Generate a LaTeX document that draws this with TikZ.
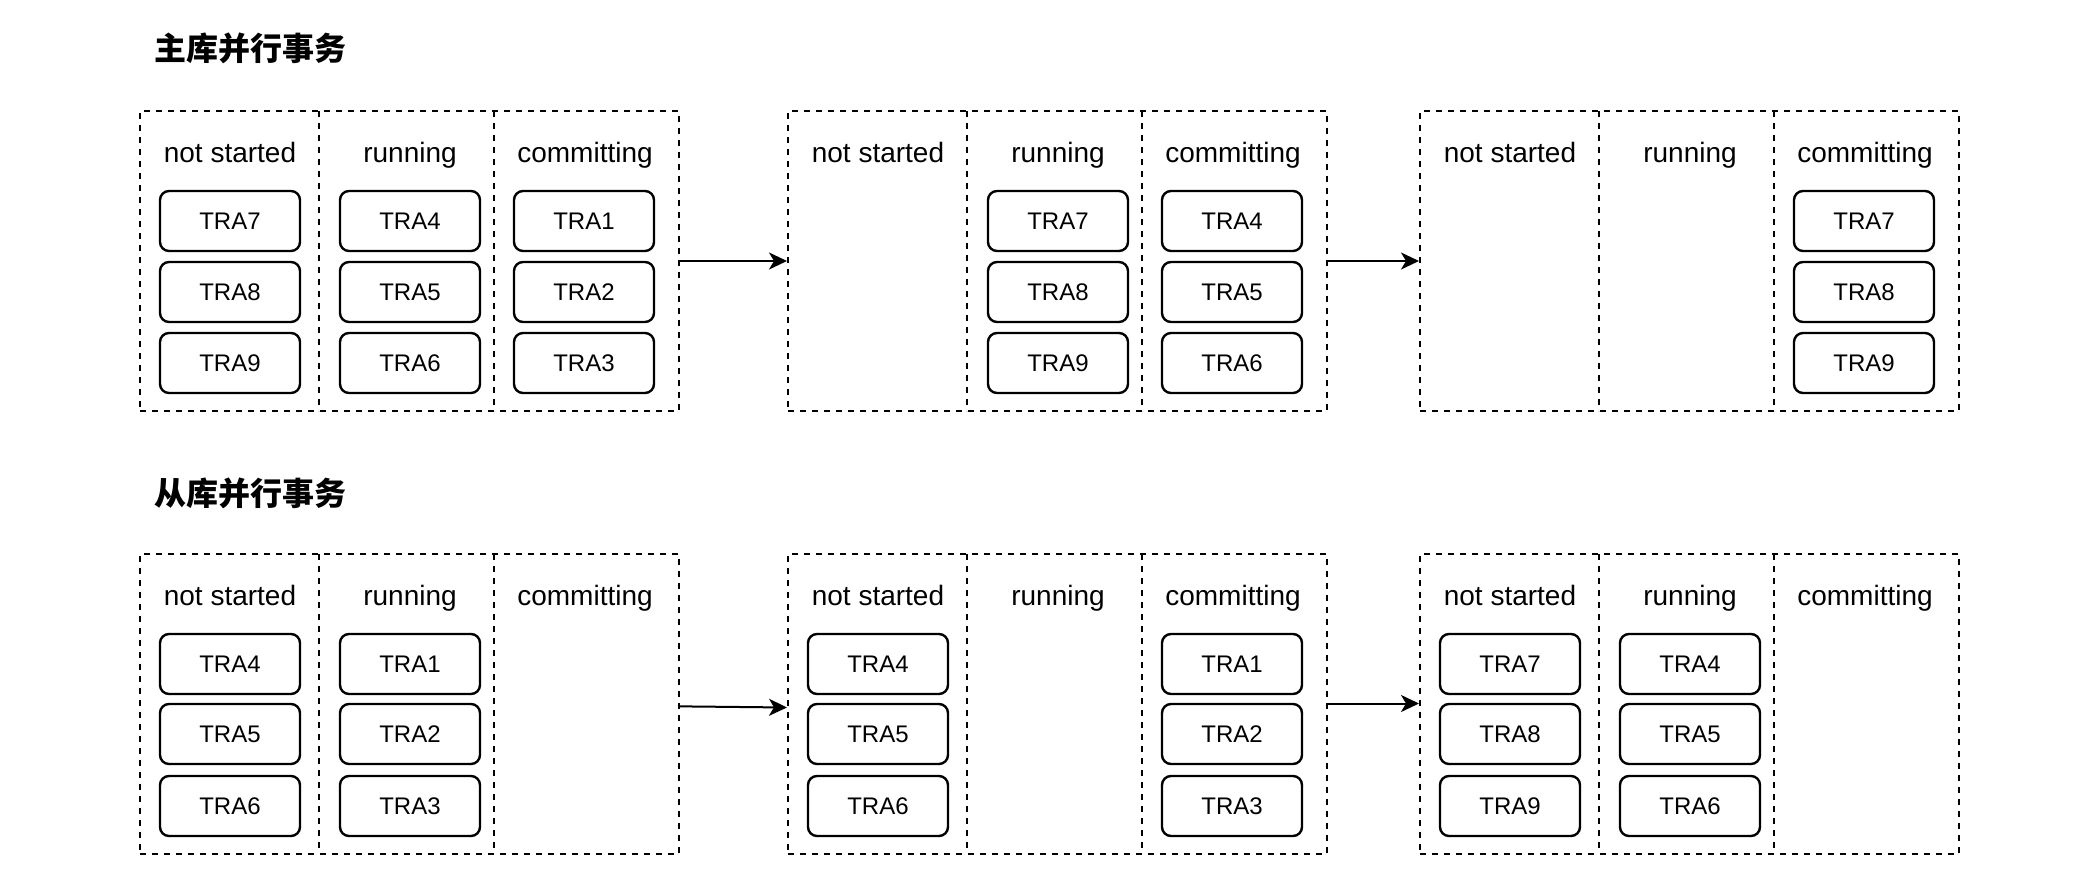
\documentclass[tikz,border=0pt]{standalone}
\usepackage{fontspec}
\setmainfont{Liberation Sans}
\newfontfamily\cjk{Noto Sans CJK SC}
\usetikzlibrary{arrows.meta}

\begin{document}
\begin{tikzpicture}[x=0.5pt, y=-0.5pt,
    stage/.style={draw, dashed, dash pattern=on 3pt off 3pt, line width=1pt,
      minimum width=269.5pt, minimum height=150pt, inner sep=0pt},
    divider/.style={dashed, dash pattern=on 3pt off 3pt, line width=1pt},
    tra/.style={draw, rounded corners=4.5pt, line width=1.2pt, minimum width=70pt,
      minimum height=30pt, inner sep=0pt, font=\fontsize{12}{14}\selectfont},
    head/.style={anchor=base, inner sep=0pt, font=\fontsize{14}{16}\selectfont},
    title/.style={anchor=base west, inner sep=0pt, font=\cjk\bfseries\fontsize{16}{18}\selectfont},
    flow/.style={-{Stealth[length=9pt, width=8.5pt, inset=2.5pt]}, line width=1pt}]
  \useasboundingbox (0,0) rectangle (2074,878);

  %% master
  \node[title] (t1) at (154,61) {主库并行事务};

  %% master, stage 1
  \node[stage] (m1) at (409.5,261) {};
  \draw[divider] (319,111) -- (319,411);
  \draw[divider] (494,111) -- (494,411);
  \node[head] (m1-ns) at (230,162) {not started};
  \node[head] (m1-run) at (410,162) {running};
  \node[head] (m1-com) at (585,162) {committing};
  \node[tra] (m1-7) at (230,221) {TRA7};
  \node[tra] (m1-8) at (230,292) {TRA8};
  \node[tra] (m1-9) at (230,363) {TRA9};
  \node[tra] (m1-4) at (410,221) {TRA4};
  \node[tra] (m1-5) at (410,292) {TRA5};
  \node[tra] (m1-6) at (410,363) {TRA6};
  \node[tra] (m1-1) at (584,221) {TRA1};
  \node[tra] (m1-2) at (584,292) {TRA2};
  \node[tra] (m1-3) at (584,363) {TRA3};

  %% master, stage 2
  \node[stage] (m2) at (1057.5,261) {};
  \draw[divider] (967,111) -- (967,411);
  \draw[divider] (1142,111) -- (1142,411);
  \node[head] (m2-ns) at (878,162) {not started};
  \node[head] (m2-run) at (1058,162) {running};
  \node[head] (m2-com) at (1233,162) {committing};
  \node[tra] (m2-7) at (1058,221) {TRA7};
  \node[tra] (m2-8) at (1058,292) {TRA8};
  \node[tra] (m2-9) at (1058,363) {TRA9};
  \node[tra] (m2-4) at (1232,221) {TRA4};
  \node[tra] (m2-5) at (1232,292) {TRA5};
  \node[tra] (m2-6) at (1232,363) {TRA6};

  %% master, stage 3
  \node[stage] (m3) at (1689.5,261) {};
  \draw[divider] (1599,111) -- (1599,411);
  \draw[divider] (1774,111) -- (1774,411);
  \node[head] (m3-ns) at (1510,162) {not started};
  \node[head] (m3-run) at (1690,162) {running};
  \node[head] (m3-com) at (1865,162) {committing};
  \node[tra] (m3-7) at (1864,221) {TRA7};
  \node[tra] (m3-8) at (1864,292) {TRA8};
  \node[tra] (m3-9) at (1864,363) {TRA9};

  \draw[flow] (m1) -- (m2);
  \draw[flow] (m2) -- (m3);

  %% slave
  \node[title] (t2) at (154,505) {从库并行事务};

  %% slave, stage 1
  \node[stage] (s1) at (409.5,703.5) {};
  \draw[divider] (319,554) -- (319,853);
  \draw[divider] (494,554) -- (494,853);
  \node[head] (s1-ns) at (230,605) {not started};
  \node[head] (s1-run) at (410,605) {running};
  \node[head] (s1-com) at (585,605) {committing};
  \node[tra] (s1-4) at (230,664) {TRA4};
  \node[tra] (s1-5) at (230,734) {TRA5};
  \node[tra] (s1-6) at (230,806) {TRA6};
  \node[tra] (s1-1) at (410,664) {TRA1};
  \node[tra] (s1-2) at (410,734) {TRA2};
  \node[tra] (s1-3) at (410,806) {TRA3};

  %% slave, stage 2
  \node[stage] (s2) at (1057.5,703.5) {};
  \draw[divider] (967,554) -- (967,853);
  \draw[divider] (1142,554) -- (1142,853);
  \node[head] (s2-ns) at (878,605) {not started};
  \node[head] (s2-run) at (1058,605) {running};
  \node[head] (s2-com) at (1233,605) {committing};
  \node[tra] (s2-4) at (878,664) {TRA4};
  \node[tra] (s2-5) at (878,734) {TRA5};
  \node[tra] (s2-6) at (878,806) {TRA6};
  \node[tra] (s2-1) at (1232,664) {TRA1};
  \node[tra] (s2-2) at (1232,734) {TRA2};
  \node[tra] (s2-3) at (1232,806) {TRA3};

  %% slave, stage 3
  \node[stage] (s3) at (1689.5,703.5) {};
  \draw[divider] (1599,554) -- (1599,853);
  \draw[divider] (1774,554) -- (1774,853);
  \node[head] (s3-ns) at (1510,605) {not started};
  \node[head] (s3-run) at (1690,605) {running};
  \node[head] (s3-com) at (1865,605) {committing};
  \node[tra] (s3-7) at (1510,664) {TRA7};
  \node[tra] (s3-8) at (1510,734) {TRA8};
  \node[tra] (s3-9) at (1510,806) {TRA9};
  \node[tra] (s3-4) at (1690,664) {TRA4};
  \node[tra] (s3-5) at (1690,734) {TRA5};
  \node[tra] (s3-6) at (1690,806) {TRA6};

  \draw[flow] (s1) -- ([yshift=-2pt]s2.west);
  \draw[flow] (s2) -- (s3);

\end{tikzpicture}
\end{document}
